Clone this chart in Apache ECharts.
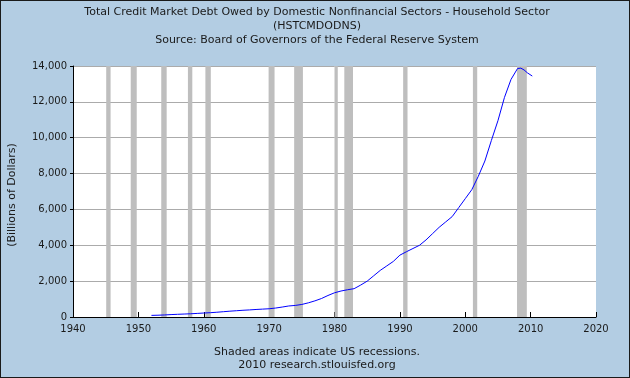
<!DOCTYPE html>
<html>
<head>
<meta charset="utf-8">
<script src="https://cdn.jsdelivr.net/npm/echarts@6/dist/echarts.min.js"></script>
<style>
html,body{margin:0;padding:0;background:#b3cde3;}
#wrap{position:relative;width:630px;height:378px;}
#chart{position:absolute;left:0;top:0;width:630px;height:378px;}
#frame{position:absolute;left:0;top:0;width:630px;height:378px;box-sizing:border-box;border:1px solid #1a1a1a;pointer-events:none;}
</style>
</head>
<body>
<div id="wrap"><div id="chart"></div><div id="frame"></div></div>
<script>
var titleLines = [
  'Total Credit Market Debt Owed by Domestic Nonfinancial Sectors - Household Sector',
  '(HSTCMDODNS)',
  'Source: Board of Governors of the Federal Reserve System'
];
var footerLines = ['Shaded areas indicate US recessions.', '2010 research.stlouisfed.org'];
var yAxisName = '(Billions of Dollars)';

var years = [1952,1953,1954,1955,1956,1957,1958,1959,1960,1961,1962,1963,1964,1965,1966,1967,1968,1969,
  1970,1971,1972,1973,1974,1975,1976,1977,1978,1979,1980,1981,1982,1983,1984,1985,1986,1987,1988,1989,
  1990,1991,1992,1993,1994,1995,1996,1997,1998,1999,2000,2001,2002,2003,2004,2005,2006,2007,2008,2008.5,
  2009,2009.5,2010.25];
var debt = [90,100,115,135,150,165,180,200,222,240,265,295,325,350,375,395,420,440,
  460,500,555,615,645,700,790,900,1030,1200,1350,1450,1520,1580,1780,2000,2300,2600,2850,3100,
  3450,3640,3820,4000,4300,4650,5000,5300,5600,6100,6600,7100,7850,8700,9850,10950,12250,13250,13860,13880,
  13780,13620,13440];
var recessions = [[1945.08,1945.75],[1948.83,1949.75],[1953.5,1954.33],[1957.58,1958.25],[1960.25,1961.08],
  [1969.92,1970.83],[1973.83,1975.17],[1980.0,1980.5],[1981.5,1982.83],[1990.5,1991.17],[2001.17,2001.83],
  [2007.92,2009.42]];
var xTicks = {min:1940, max:2020, interval:10};
var yTicks = {min:0, max:14000, interval:2000};

var FONT = 'DejaVu Sans';
var TXT = '#1a1a1a';
var chart = echarts.init(document.getElementById('chart'), null, {renderer:'canvas'});
var graphics = [];
titleLines.forEach(function(t,i){
  graphics.push({type:'text', x:317, y:12+i*14, style:{text:t, font:'11px "'+FONT+'"', fill:TXT, textAlign:'center', textVerticalAlign:'middle'}});
});
footerLines.forEach(function(t,i){
  graphics.push({type:'text', x:317, y:352+i*13, style:{text:t, font:'11px "'+FONT+'"', fill:TXT, textAlign:'center', textVerticalAlign:'middle'}});
});
graphics.push({type:'text', x:7, y:195, rotation:Math.PI/2,
  style:{text:yAxisName, font:'11px "'+FONT+'"', fill:TXT, textAlign:'center', textVerticalAlign:'top'}});

chart.setOption({
  animation:false,
  backgroundColor:'#b3cde3',
  textStyle:{fontFamily:FONT},
  graphic:graphics,
  grid:{left:73, right:34, top:66, bottom:61, show:true, backgroundColor:'#ffffff', borderWidth:0},
  xAxis:{type:'value', min:xTicks.min, max:xTicks.max, interval:xTicks.interval,
    axisLine:{show:true, lineStyle:{color:'#000', width:1}},
    axisTick:{show:true, inside:true, length:5, lineStyle:{color:'#000'}},
    axisLabel:{color:TXT, fontSize:10, fontFamily:FONT, margin:7, formatter:function(v){return String(v);}},
    splitLine:{show:false}},
  yAxis:{type:'value', min:yTicks.min, max:yTicks.max, interval:yTicks.interval,
    axisLine:{show:true, lineStyle:{color:'#000', width:1}},
    axisTick:{show:true, inside:false, length:3, lineStyle:{color:'#000'}},
    axisLabel:{color:TXT, fontSize:10, fontFamily:FONT, margin:6},
    splitLine:{show:true, lineStyle:{color:'#ababab', width:1}}},
  series:[{
    type:'line', showSymbol:false, silent:true,
    data: years.map(function(y,i){return [y, debt[i]];}),
    lineStyle:{color:'#0000ff', width:1},
    markArea:{silent:true, itemStyle:{color:'#bebebe'},
      data: recessions.map(function(r){return [{xAxis:r[0]},{xAxis:r[1]}];})}
  }]
});
</script>
</body>
</html>
